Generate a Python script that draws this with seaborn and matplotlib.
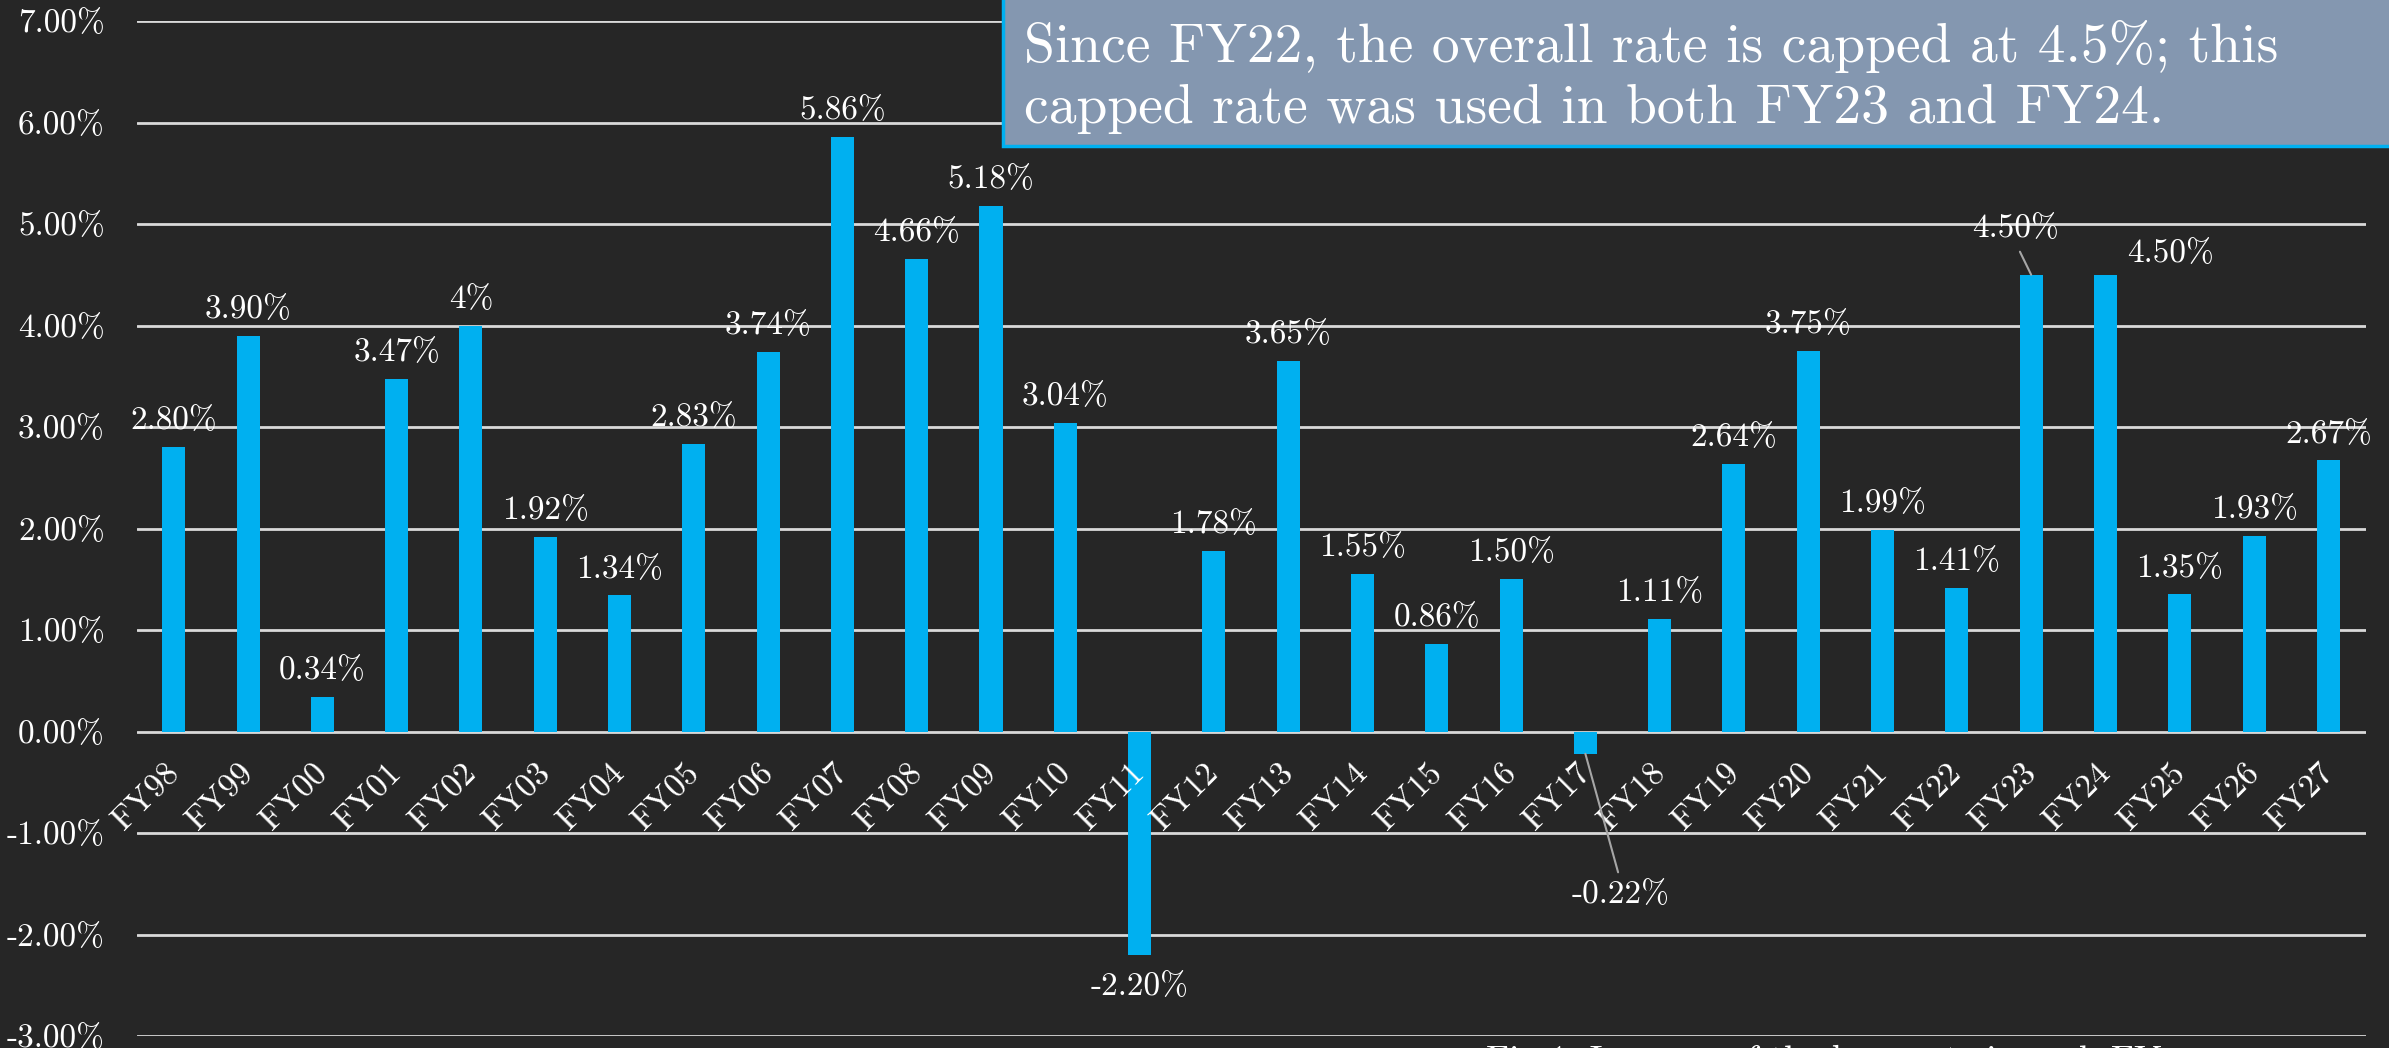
import matplotlib
matplotlib.use("Agg")
import matplotlib.pyplot as plt
import matplotlib.transforms as mtransforms
from matplotlib.patches import Rectangle
import seaborn as sns
import pandas as pd

years = ["FY98", "FY99", "FY00", "FY01", "FY02", "FY03", "FY04", "FY05", "FY06", "FY07",
         "FY08", "FY09", "FY10", "FY11", "FY12", "FY13", "FY14", "FY15", "FY16", "FY17",
         "FY18", "FY19", "FY20", "FY21", "FY22", "FY23", "FY24", "FY25", "FY26", "FY27"]
rates = [2.80, 3.90, 0.34, 3.47, 4.00, 1.92, 1.34, 2.83, 3.74, 5.86,
         4.66, 5.18, 3.04, -2.20, 1.78, 3.65, 1.55, 0.86, 1.50, -0.22,
         1.11, 2.64, 3.75, 1.99, 1.41, 4.50, 4.50, 1.35, 1.93, 2.67]
rate_labels = ["2.80%", "3.90%", "0.34%", "3.47%", "4%", "1.92%", "1.34%", "2.83%", "3.74%", "5.86%",
               "4.66%", "5.18%", "3.04%", "-2.20%", "1.78%", "3.65%", "1.55%", "0.86%", "1.50%", "-0.22%",
               "1.11%", "2.64%", "3.75%", "1.99%", "1.41%", "4.50%", "4.50%", "1.35%", "1.93%", "2.67%"]
y_ticks = [-3, -2, -1, 0, 1, 2, 3, 4, 5, 6, 7]
y_tick_labels = ["-3.00%", "-2.00%", "-1.00%", "0.00%", "1.00%", "2.00%", "3.00%",
                 "4.00%", "5.00%", "6.00%", "7.00%"]
note_text = "Since FY22, the overall rate is capped at 4.5%; this\ncapped rate was used in both FY23 and FY24."
caption_text = "Fig 1: Increase of the base rate in each FY"

BG = "#262626"
BAR = "#00B0F0"
GRID = "#D9D9D9"
FONT = "cmr10"

sns.set_theme(style="dark")
plt.rcParams["font.family"] = [FONT, "DejaVu Serif"]
plt.rcParams["axes.unicode_minus"] = False

W, H = 2389, 1048
fig = plt.figure(figsize=(W / 100, H / 100), dpi=100, facecolor=BG)
left, right = 136.6 / W, 2365.5 / W
top, bottom = 21.0 / H, 1036.0 / H
ax = fig.add_axes([left, 1 - bottom, right - left, bottom - top])
ax.set_facecolor(BG)

df = pd.DataFrame({"year": years, "rate": rates})
sns.barplot(data=df, x="year", y="rate", color=BAR, saturation=1, width=0.31,
            linewidth=0, ax=ax)

ax.set_xlim(-0.5, len(years) - 0.5)
ax.set_ylim(-3, 7)
ax.set_yticks(y_ticks)
ax.set_yticklabels(y_tick_labels)
ax.yaxis.grid(True, color=GRID, linewidth=2.0)
ax.xaxis.grid(False)
ax.set_axisbelow(True)
for s in ax.spines.values():
    s.set_visible(False)
ax.set_xlabel("")
ax.set_ylabel("")
ax.tick_params(axis="y", length=0, pad=23, labelsize=24, labelcolor="white")
ax.tick_params(axis="x", length=0, labelbottom=False)

# category labels drawn at the zero line, above the bars
for i, yr in enumerate(years):
    ax.annotate(yr, xy=(i, 0), xytext=(0, -26.5), textcoords="offset points",
                rotation=45, ha="right", va="center", rotation_mode="anchor",
                color="white", fontsize=24, zorder=4)

# data labels
special = {
    "FY11": dict(dx=0, dy=-23, line=False),
    "FY17": dict(dx=25, dy=-101, line=True, relpos=(0.5, 1.0), shrinkA=3),
    "FY23": dict(dx=-11, dy=33, line=True, relpos=(0.5, 0.0), shrinkA=4),
    "FY24": dict(dx=47, dy=15, line=False),
}
for i, (yr, v, txt) in enumerate(zip(years, rates, rate_labels)):
    if yr in special:
        sp = special[yr]
        kw = {}
        if sp["line"]:
            kw["arrowprops"] = dict(arrowstyle="-", color="#A6A6A6", lw=1.5,
                                    relpos=sp["relpos"], shrinkA=sp["shrinkA"], shrinkB=0)
        ax.annotate(txt, xy=(i, v), xytext=(sp["dx"], sp["dy"]), textcoords="offset points",
                    ha="center", va="center", color="white", fontsize=24, zorder=4, **kw)
    else:
        ax.annotate(txt, xy=(i, v), xytext=(0, 19), textcoords="offset points",
                    ha="center", va="center", color="white", fontsize=24, zorder=4)

# note box (extends past the top/right edge of the figure)
box_x0, box_y1 = 1003 / W, 1 - 146 / H
rect = Rectangle((box_x0, box_y1), 1.2, 0.3, transform=fig.transFigure,
                 facecolor="#8497B0", edgecolor=BAR, linewidth=2.5, zorder=5, clip_on=False)
fig.patches.append(rect)
fig.text(1024 / W, 1 - 77 / H, note_text, color="white", fontsize=40, ha="left",
         va="center", linespacing=1.27, zorder=6)

# caption, mostly cut off at the bottom edge
fig.text(1486 / W, 1 - 1045 / H, caption_text, color="white", fontsize=26,
         ha="left", va="top")

fig.savefig("out.png", dpi=100, facecolor=BG)
